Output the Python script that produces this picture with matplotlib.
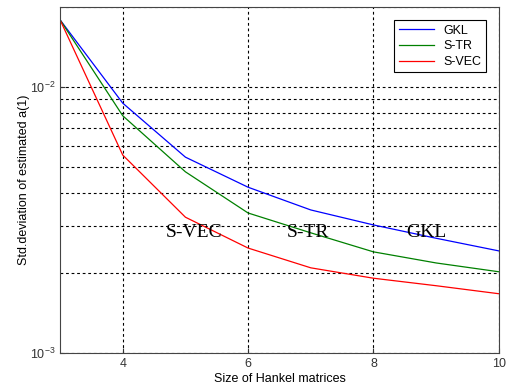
import matplotlib
matplotlib.use("Agg")
import matplotlib.pyplot as plt
from matplotlib.ticker import LogLocator, NullFormatter, FixedLocator

plt.rcParams['font.family'] = ['Liberation Sans', 'DejaVu Sans']

# Hankel matrix sizes and std. deviations
sizes = [3, 4, 5, 6, 7, 8, 9, 10]
gkl = [1.79e-2, 8.7e-3, 5.45e-3, 4.2e-3, 3.45e-3, 3.03e-3, 2.70e-3, 2.42e-3]
s_tr = [1.79e-2, 7.8e-3, 4.8e-3, 3.36e-3, 2.83e-3, 2.40e-3, 2.18e-3, 2.02e-3]
s_vec = [1.79e-2, 5.55e-3, 3.24e-3, 2.48e-3, 2.09e-3, 1.91e-3, 1.79e-3, 1.67e-3]

series_names = ['GKL', 'S-TR', 'S-VEC']
series_colors = ['#0000ff', '#008000', '#ff0000']

# in-plot annotations (x, y, text)
notes = [(5.14, 2.83e-3, 'S-VEC'), (6.95, 2.83e-3, 'S-TR'), (8.84, 2.83e-3, 'GKL')]

fig = plt.figure(figsize=(5.09, 3.90), dpi=100)
ax = fig.add_axes([0.118, 0.095, 0.862, 0.887])

for vals, name, col in zip([gkl, s_tr, s_vec], series_names, series_colors):
    ax.plot(sizes, vals, color=col, linewidth=0.9, label=name)

ax.set_yscale('log')
ax.set_xlim(3, 10)
ax.set_ylim(1e-3, 2e-2)
ax.xaxis.set_major_locator(FixedLocator([4, 6, 8, 10]))
ax.yaxis.set_major_locator(LogLocator(base=10))
ax.yaxis.set_minor_locator(LogLocator(base=10, subs=range(2, 10)))
ax.yaxis.set_minor_formatter(NullFormatter())

# dashed grid like the old matlab figure
ax.grid(True, which='major', color='black', linestyle=(0, (2.5, 2.5)), linewidth=0.8)
ax.grid(True, which='minor', axis='y', color='black', linestyle=(0, (2.5, 2.5)), linewidth=0.8)

ax.tick_params(which='both', direction='in', labelsize=9, colors='#333333')
ax.tick_params(which='minor', length=0)
for sp in ax.spines.values():
    sp.set_color('#444444')

for x, y, t in notes:
    ax.text(x, y, t, ha='center', va='center', fontsize=14,
            family=['Liberation Serif', 'DejaVu Serif'])

ax.set_xlabel('Size of Hankel matrices', fontsize=9, labelpad=2)
ax.set_ylabel('Std.deviation of estimated a(1)', fontsize=9, labelpad=0)

leg = ax.legend(loc='upper right', fontsize=9, fancybox=False, framealpha=1,
                edgecolor='black', handlelength=2.8, borderpad=0.35,
                labelspacing=0.3, bbox_to_anchor=(0.985, 0.98))
leg.get_frame().set_linewidth(0.8)

fig.savefig('out.png', dpi=100)
